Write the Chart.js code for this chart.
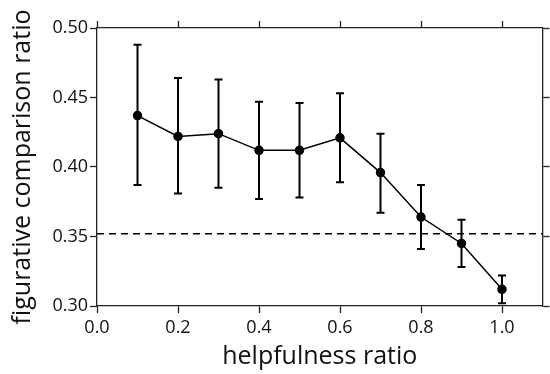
<!DOCTYPE html>
<html>
<head>
<meta charset="utf-8">
<script src="https://cdn.jsdelivr.net/npm/chart.js@4/dist/chart.umd.min.js"></script>
<style>
  html, body { margin: 0; padding: 0; background: #fff; }
  #wrap { width: 550px; height: 374px; }
</style>
</head>
<body>
<div id="wrap"><canvas id="ratioChart"></canvas></div>
<script>
// Data
const helpfulness = [0.1, 0.2, 0.3, 0.4, 0.5, 0.6, 0.7, 0.8, 0.9, 1.0];
const meanRatio = [0.437, 0.422, 0.424, 0.412, 0.412, 0.421, 0.396, 0.364, 0.345, 0.312];
const upperRatio = [0.488, 0.464, 0.463, 0.447, 0.446, 0.453, 0.424, 0.387, 0.362, 0.322];
const lowerRatio = [0.387, 0.381, 0.385, 0.377, 0.378, 0.389, 0.367, 0.341, 0.328, 0.302];
const baselineRatio = 0.352;
const xRange = [0.0, 1.1];
const yRange = [0.30, 0.50];

const ink = '#000';
const fontFamily = "'Open Sans', 'Noto Sans', sans-serif";

// draws the vertical error bars with caps, using the chart's own scales
const errorBars = {
    id: 'errorBars',
    afterDatasetsDraw(chart) {
        const { ctx, scales: { x, y } } = chart;
        ctx.save();
        ctx.strokeStyle = ink;
        ctx.lineWidth = 2;
        helpfulness.forEach((hx, i) => {
            const px = x.getPixelForValue(hx);
            const top = y.getPixelForValue(upperRatio[i]);
            const bot = y.getPixelForValue(lowerRatio[i]);
            ctx.beginPath();
            ctx.moveTo(px, top); ctx.lineTo(px, bot);
            ctx.moveTo(px - 4, top); ctx.lineTo(px + 4, top);
            ctx.moveTo(px - 4, bot); ctx.lineTo(px + 4, bot);
            ctx.stroke();
        });
        ctx.restore();
    }
};

function fixSize(size) {
    return function (scale) {
        if (scale.isHorizontal()) scale.height = size;
        else scale.width = size;
    };
}

const tickGrid = { drawOnChartArea: false, drawTicks: true, tickLength: 7, tickWidth: 1.3, tickColor: '#222' };
const axisBorder = { display: true, color: '#222', width: 1.3 };

const ctxRatio = document.getElementById('ratioChart').getContext('2d');
const ratioChart = new Chart(ctxRatio, {
    type: 'scatter',
    data: {
        datasets: [{
            label: 'figurative comparison ratio',
            data: helpfulness.map((hx, i) => ({ x: hx, y: meanRatio[i] })),
            showLine: true,
            borderColor: ink,
            backgroundColor: ink,
            borderWidth: 1.5,
            pointRadius: 4,
            pointHoverRadius: 4,
            order: 1
        }, {
            label: 'baseline',
            data: [{ x: xRange[0], y: baselineRatio }, { x: xRange[1], y: baselineRatio }],
            showLine: true,
            borderColor: ink,
            borderWidth: 1.5,
            borderDash: [7, 5],
            pointRadius: 0,
            order: 2
        }]
    },
    options: {
        responsive: true,
        maintainAspectRatio: false,
        animation: false,
        layout: { padding: 0 },
        plugins: {
            legend: { display: false },
            tooltip: { enabled: false }
        },
        scales: {
            x: {
                type: 'linear',
                position: 'bottom',
                min: xRange[0],
                max: xRange[1],
                afterFit: fixSize(68),
                grid: tickGrid,
                border: axisBorder,
                ticks: {
                    stepSize: 0.2,
                    includeBounds: false,
                    maxRotation: 0,
                    padding: 4,
                    color: '#111',
                    font: { family: fontFamily, size: 18 },
                    callback: v => v.toFixed(1)
                },
                title: {
                    display: true,
                    text: 'helpfulness ratio',
                    color: '#111',
                    padding: { top: 0, bottom: 2 },
                    font: { family: fontFamily, size: 25 }
                }
            },
            xTop: {
                type: 'linear',
                position: 'top',
                min: xRange[0],
                max: xRange[1],
                afterFit: fixSize(28),
                grid: tickGrid,
                border: axisBorder,
                ticks: { stepSize: 0.2, includeBounds: false, display: false }
            },
            y: {
                type: 'linear',
                position: 'left',
                min: yRange[0],
                max: yRange[1],
                afterFit: fixSize(97),
                grid: tickGrid,
                border: axisBorder,
                ticks: {
                    stepSize: 0.05,
                    padding: 2,
                    color: '#111',
                    font: { family: fontFamily, size: 18 },
                    callback: v => v.toFixed(2)
                },
                title: {
                    display: true,
                    text: 'figurative comparison ratio',
                    color: '#111',
                    padding: { top: 8, bottom: 0 },
                    font: { family: fontFamily, size: 25 }
                }
            },
            yRight: {
                type: 'linear',
                position: 'right',
                min: yRange[0],
                max: yRange[1],
                afterFit: fixSize(7.5),
                grid: tickGrid,
                border: axisBorder,
                ticks: { stepSize: 0.05, display: false }
            }
        }
    },
    plugins: [errorBars]
});
</script>
</body>
</html>
